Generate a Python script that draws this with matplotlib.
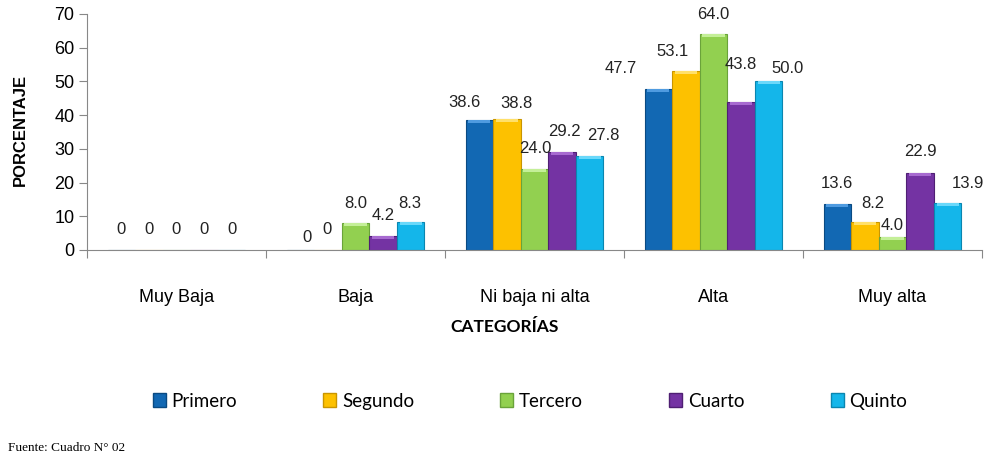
import numpy as np
import matplotlib
matplotlib.use("Agg")
import matplotlib.pyplot as plt
from matplotlib.patches import Patch

# Datos del gráfico
categorias = ["Muy Baja", "Baja", "Ni baja ni alta", "Alta", "Muy alta"]
primero = [0, 0, 38.6, 47.7, 13.6]
segundo = [0, 0, 38.8, 53.1, 8.2]
tercero = [0, 8.0, 24.0, 64.0, 4.0]
cuarto = [0, 4.2, 29.2, 43.8, 22.9]
quinto = [0, 8.3, 27.8, 50.0, 13.9]
etiquetas_serie = ["Primero", "Segundo", "Tercero", "Cuarto", "Quinto"]
etiquetas_texto = [
    ["0", "0", "38.6", "47.7", "13.6"],
    ["0", "0", "38.8", "53.1", "8.2"],
    ["0", "8.0", "24.0", "64.0", "4.0"],
    ["0", "4.2", "29.2", "43.8", "22.9"],
    ["0", "8.3", "27.8", "50.0", "13.9"],
]

series = [primero, segundo, tercero, cuarto, quinto]
colores = ["#1268b3", "#fdc100", "#92d050", "#7433a3", "#14b6ea"]
bordes = ["#0a4a82", "#c99500", "#6aa33a", "#4f1f73", "#0a86b0"]
brillos = ["#4f9be0", "#ffe06a", "#c4ef98", "#a76ad0", "#6ad8fa"]

# desplazamiento (px) de cada etiqueta respecto al tope de la barra (como en el original)
despl = [
    [(0, 21), (7, 13), (-15, 17), (-38, 21), (0, 21)],
    [(0, 21), (-1, 21), (10, 16), (-13, 19), (8, 19)],
    [(0, 21), (0, 20), (1, 21), (0, 20), (0, 11)],
    [(0, 21), (0, 20), (2, 20), (0, 38), (0, 21)],
    [(0, 21), (-1, 19), (14, 21), (19, 13), (20, 20)],
]

plt.rcParams["font.family"] = ["Liberation Sans", "DejaVu Sans"]

fig = plt.figure(figsize=(9.99, 4.69), dpi=100)
ax = fig.add_axes([87 / 999, 1 - 250 / 469, (982 - 87) / 999, (250 - 14) / 469])

x = np.arange(len(categorias))
ancho = 0.154
for j, valores in enumerate(series):
    pos = x + (j - 2) * ancho
    ax.bar(pos, valores, width=ancho, color=colores[j], edgecolor=bordes[j],
           linewidth=0.8, zorder=2)
    # pequeño brillo en el tope de cada barra
    alto = [min(v, 0.9) for v in valores]
    base = [v - a for v, a in zip(valores, alto)]
    ax.bar(pos, alto, bottom=base, width=ancho * 0.8, color=brillos[j],
           linewidth=0, zorder=3)
    for i, v in enumerate(valores):
        dx, dy = despl[j][i]
        ax.annotate(etiquetas_texto[j][i], (pos[i], v), xytext=(dx, dy),
                    textcoords="offset pixels", ha="center", va="center",
                    fontsize=12, color="#222222", zorder=4)

ax.set_xlim(-0.5, len(categorias) - 0.5)
ax.set_ylim(0, 70)
ax.set_yticks(np.arange(0, 71, 10))
ax.set_xticks(x)
ax.set_xticklabels(categorias, fontsize=13)
ax.set_xticks(np.arange(-0.5, len(categorias), 1), minor=True)
ax.tick_params(axis="x", which="major", length=0, pad=28)
ax.tick_params(axis="x", which="minor", length=6, color="#888888", width=0.8)
ax.tick_params(axis="y", labelsize=13, length=6, color="#888888", width=0.8, pad=3)
for lado in ["top", "right"]:
    ax.spines[lado].set_visible(False)
for lado in ["left", "bottom"]:
    ax.spines[lado].set_color("#888888")
    ax.spines[lado].set_linewidth(0.8)

fig.text(20 / 999, 1 - 130 / 469, "PORCENTAJE", rotation=90, ha="center",
         va="center", fontsize=12, fontweight="bold")
fig.text(505 / 999, 1 - 327 / 469, "CATEGORÍAS", ha="center", va="center",
         fontsize=12.5, fontweight="bold", family="Lato")

manijas = [Patch(facecolor=colores[j], edgecolor=bordes[j]) for j in range(5)]
fig.legend(manijas, etiquetas_serie, loc="center", ncol=5,
           bbox_to_anchor=(530 / 999, 1 - 401 / 469), frameon=False,
           prop={"family": "Lato", "size": 13.5}, handlelength=0.7,
           handleheight=0.7, handletextpad=0.3, columnspacing=4.6)

fig.text(8 / 999, 1 - 448 / 469, "Fuente: Cuadro N° 02", ha="left", va="center",
         fontsize=9.5, family="Liberation Serif")

fig.savefig("out.png", dpi=100)
